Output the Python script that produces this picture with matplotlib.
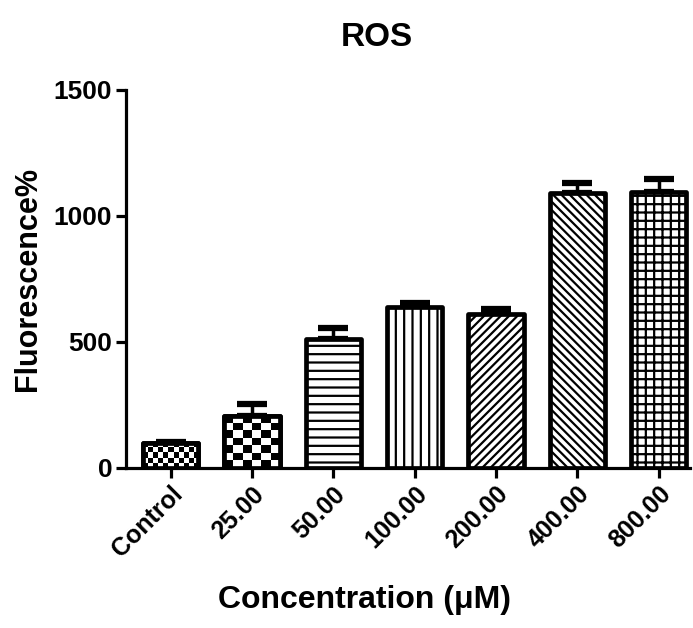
import numpy as np
import matplotlib
matplotlib.use("Agg")
import matplotlib.pyplot as plt

categories = ["Control", "25.00", "50.00", "100.00", "200.00", "400.00", "800.00"]
means = [100, 207, 512, 638, 610, 1092, 1093]
errors = [3, 45, 42, 15, 20, 38, 55]
hatches = [None, None, "--", "||", "////", "\\\\\\\\", "++"]
yticks = [0, 500, 1000, 1500]

plt.rcParams['font.family'] = ['Liberation Sans', 'DejaVu Sans']
plt.rcParams['hatch.linewidth'] = 1.6

fig = plt.figure(figsize=(6.93, 6.28), dpi=100)
ax = fig.add_axes([0.182, 0.2548, 0.814, 0.6022])

x = np.arange(len(categories))
bars = ax.bar(x, means, width=0.68, facecolor="white", edgecolor="black",
              linewidth=3.4, zorder=3, joinstyle="round")
for b, h in zip(bars, hatches):
    if h:
        b.set_hatch(h)

# upward error bars
ax.errorbar(x, means, yerr=[np.zeros(len(means)), errors], fmt="none",
            ecolor="black", elinewidth=2.5, capsize=10.5, capthick=4.5, zorder=2)

# checkerboard fills for first two bars
for i, (rows, cols) in [(0, (5, 11)), (1, (7, 6))]:
    b = bars[i]
    checker = np.indices((rows, cols)).sum(axis=0) % 2
    x0, w = b.get_x(), b.get_width()
    im = ax.imshow(checker, cmap="gray", interpolation="nearest",
                   extent=(x0, x0 + w, 0, b.get_height()), aspect="auto", zorder=3.5)
    im.set_clip_path(b)
    ax.bar(b.get_x() + w / 2, b.get_height(), width=w, fill=False,
           edgecolor="black", linewidth=3.4, zorder=4, joinstyle="round")

ax.set_xlim(-0.55, 6.39)
ax.set_ylim(0, 1500)
ax.set_yticks(yticks)
ax.set_yticklabels([str(v) for v in yticks], fontsize=19, fontweight="bold")
ax.set_xticks(x)
ax.set_xticklabels(categories, rotation=45, ha="right", rotation_mode="anchor",
                   fontsize=18, fontweight="bold")
for s in ["top", "right"]:
    ax.spines[s].set_visible(False)
for s in ["left", "bottom"]:
    ax.spines[s].set_linewidth(2.3)
ax.tick_params(axis="both", width=2.3, length=7, pad=3)
ax.set_ylabel("Fluorescence%", fontsize=22, fontweight="bold", labelpad=8)
fig.text(365 / 693, 1 - 600 / 628, "Concentration (μM)", fontsize=23,
         fontweight="bold", ha="center", va="center")
fig.text(377 / 693, 1 - 38 / 628, "ROS", fontsize=24, fontweight="bold",
         ha="center", va="center")

fig.savefig("out.png", dpi=100)
